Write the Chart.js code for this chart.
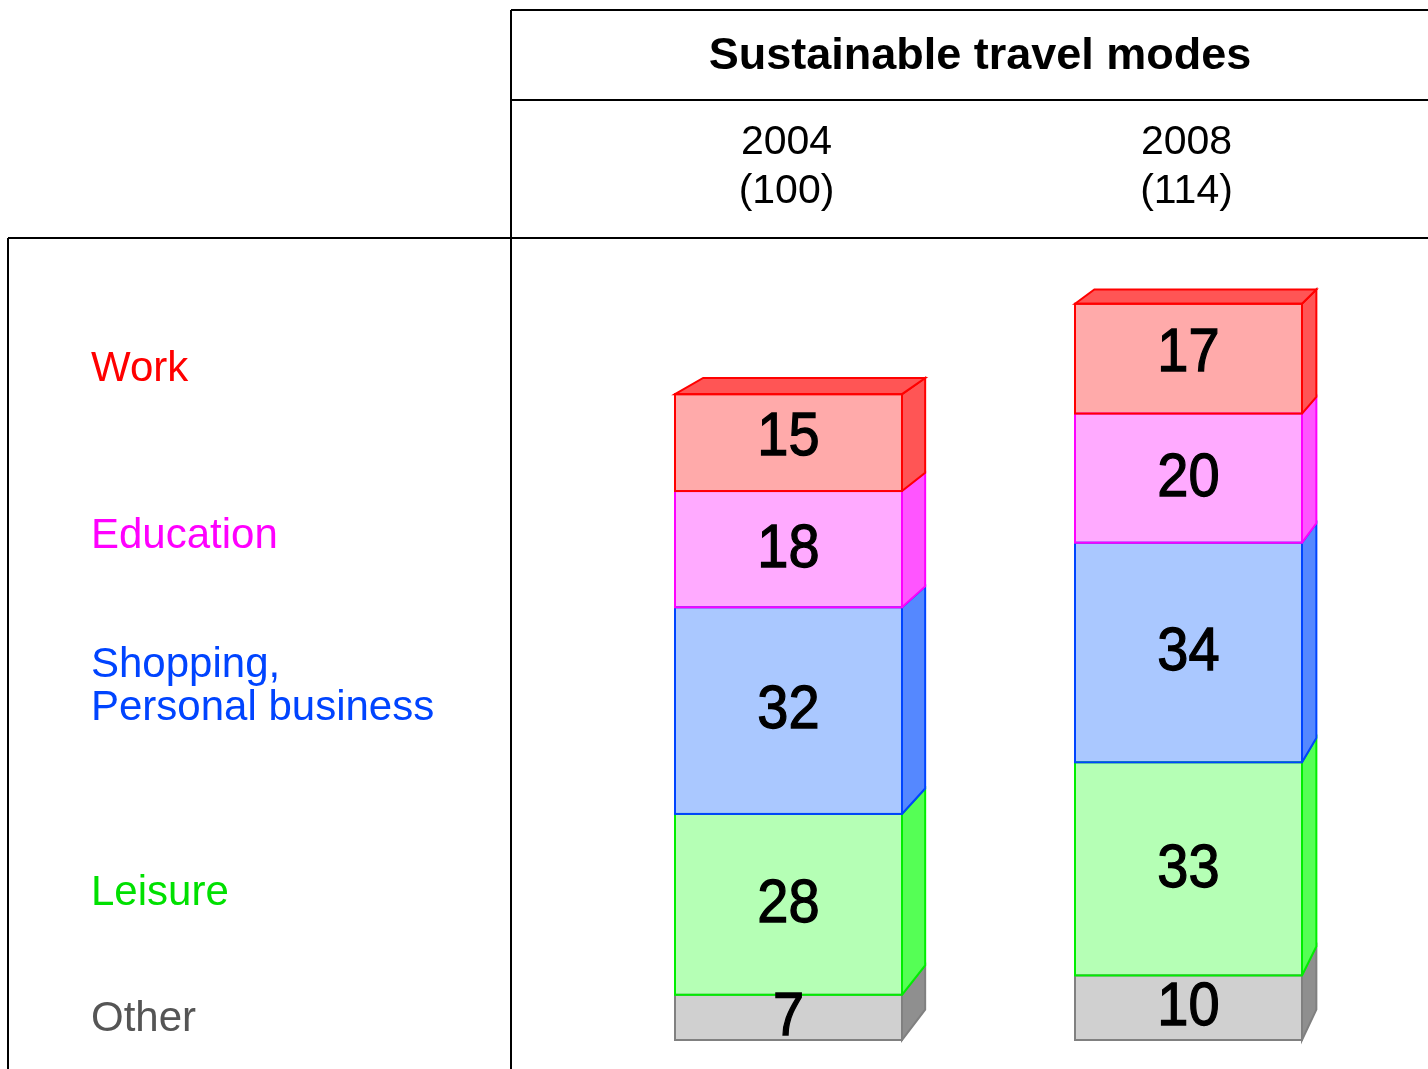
<!DOCTYPE html>
<html>
<head>
<meta charset="utf-8">
<script src="https://cdn.jsdelivr.net/npm/chart.js@4/dist/chart.umd.min.js"></script>
<style>
  body { margin: 0; background: #fff; }
  #wrap { position: absolute; left: 0; top: 0; width: 1428px; height: 1069px; }
</style>
</head>
<body>
<div id="wrap"><canvas id="myChart1" width="1428" height="1069"></canvas></div>
<script>
// data ==========================================================
const years = ["2004", "2008"];
const indexLabels = ["(100)", "(114)"];
const purposes = ["Other", "Leisure", "Shopping, Personal business", "Education", "Work"];
const other = [7, 10];
const leisure = [28, 33];
const shopping = [32, 34];
const education = [18, 20];
const work = [15, 17];

// colours (front, side/top, border, label)
const frontColors = ["#D0D0D0", "#B5FFB5", "#AAC8FF", "#FFAAFF", "#FFAAAA"];
const sideColors = ["#8F8F8F", "#55FF55", "#5588FF", "#FF55FF", "#FF5555"];
const borderColors = ["#808080", "#00EE00", "#0044FF", "#FF00FF", "#FF0000"];
const rowLabelColors = ["#555555", "#00E000", "#0044FF", "#FF00FF", "#FF0000"];

// row labels on the left, bottom to top
const rowLabels = [
  { lines: ["Other"], y: 1019 },
  { lines: ["Leisure"], y: 893 },
  { lines: ["Shopping,"], y: 665 },
  { lines: ["Education"], y: 536 },
  { lines: ["Work"], y: 369 },
];
rowLabels[2].lines.push("Personal business");

const FONT = "'Liberation Sans', Arial, Helvetica, sans-serif";
// perspective for the 3d faces
const VP = { x: 1955, y: -343 };
const K = 0.978;
function back(x, y) {
  return [VP.x + (x - VP.x) * K, VP.y + (y - VP.y) * K];
}

const series = [other, leisure, shopping, education, work];

const data = {
  labels: years,
  datasets: series.map(function (vals, i) {
    return {
      label: purposes[i],
      data: vals,
      backgroundColor: frontColors[i],
      borderWidth: 0,
    };
  }),
};

const tablePlugin = {
  id: "table3d",
  beforeDraw: function (chart) {
    const ctx = chart.ctx;
    ctx.save();
    ctx.fillStyle = "#fff";
    ctx.fillRect(0, 0, chart.width, chart.height);
    // grid lines of the table
    ctx.strokeStyle = "#000";
    ctx.lineWidth = 2;
    ctx.beginPath();
    ctx.moveTo(511, 10); ctx.lineTo(1428, 10);
    ctx.moveTo(511, 10); ctx.lineTo(511, 1069);
    ctx.moveTo(511, 100); ctx.lineTo(1428, 100);
    ctx.moveTo(8, 238); ctx.lineTo(1428, 238);
    ctx.moveTo(8, 238); ctx.lineTo(8, 1069);
    ctx.stroke();

    // title + column headers
    ctx.fillStyle = "#000";
    ctx.textAlign = "center";
    ctx.textBaseline = "middle";
    ctx.font = "bold 45px " + FONT;
    ctx.fillText("Sustainable travel modes", 980, 57);
    ctx.font = "41px " + FONT;
    const xs = chart.scales.x;
    years.forEach(function (y, i) {
      const cx = xs.getPixelForValue(i) - 2;
      ctx.fillText(y, cx, 143);
      ctx.fillText(indexLabels[i], cx, 192);
    });

    // row labels
    ctx.textAlign = "left";
    ctx.font = "42px " + FONT;
    rowLabels.forEach(function (r, i) {
      ctx.fillStyle = rowLabelColors[i];
      r.lines.forEach(function (t, j) {
        ctx.fillText(t, 91, r.y + j * 43);
      });
    });
    ctx.restore();
  },
  afterDatasetsDraw: function (chart) {
    const ctx = chart.ctx;
    const n = chart.data.datasets.length;
    ctx.save();
    ctx.lineWidth = 2;
    ctx.lineJoin = "miter";
    years.forEach(function (yr, col) {
      // side faces
      for (let d = 0; d < n; d++) {
        const el = chart.getDatasetMeta(d).data[col];
        const p = el.getProps(["x", "y", "base", "width"], true);
        const x2 = p.x + p.width / 2;
        const a = back(x2, p.y), b = back(x2, p.base);
        ctx.beginPath();
        ctx.moveTo(x2, p.y);
        ctx.lineTo(a[0], a[1]);
        ctx.lineTo(b[0], b[1]);
        ctx.lineTo(x2, p.base);
        ctx.closePath();
        ctx.fillStyle = sideColors[d];
        ctx.strokeStyle = borderColors[d];
        ctx.fill();
        ctx.stroke();
      }
      // top face
      const topEl = chart.getDatasetMeta(n - 1).data[col];
      const t = topEl.getProps(["x", "y", "base", "width"], true);
      const x1 = t.x - t.width / 2, x2 = t.x + t.width / 2;
      const b1 = back(x1, t.y), b2 = back(x2, t.y);
      ctx.beginPath();
      ctx.moveTo(x1, t.y);
      ctx.lineTo(b1[0], b1[1]);
      ctx.lineTo(b2[0], b2[1]);
      ctx.lineTo(x2, t.y);
      ctx.closePath();
      ctx.fillStyle = sideColors[n - 1];
      ctx.strokeStyle = borderColors[n - 1];
      ctx.fill();
      ctx.stroke();
      // front outlines, bottom to top
      for (let d = 0; d < n; d++) {
        const el = chart.getDatasetMeta(d).data[col];
        const p = el.getProps(["x", "y", "base", "width"], true);
        ctx.strokeStyle = borderColors[d];
        ctx.strokeRect(p.x - p.width / 2, p.y, p.width, p.base - p.y);
      }
    });
    // values
    ctx.fillStyle = "#000";
    ctx.strokeStyle = "#000";
    ctx.lineWidth = 1.2;
    ctx.font = "56px " + FONT;
    ctx.textAlign = "center";
    ctx.textBaseline = "middle";
    for (let d = 0; d < n; d++) {
      chart.getDatasetMeta(d).data.forEach(function (el, col) {
        const p = el.getProps(["x", "y", "base"], true);
        const cy = (p.y + p.base) / 2 + (d === n - 1 ? -4 : 1);
        ctx.save();
        ctx.translate(p.x, cy);
        ctx.scale(1, 1.08);
        ctx.fillText(String(series[d][col]), 0, 0);
        ctx.strokeText(String(series[d][col]), 0, 0);
        ctx.restore();
      });
    }
    ctx.restore();
  },
};

const config = {
  type: "bar",
  data: data,
  options: {
    responsive: false,
    animation: false,
    devicePixelRatio: 1,
    layout: { padding: { top: 265, bottom: 29, left: 588.5, right: 39.5 } },
    datasets: { bar: { categoryPercentage: 1, barPercentage: 0.5675 } },
    scales: {
      x: { stacked: true, display: false },
      y: { stacked: true, display: false, min: 0, max: 120 },
    },
    plugins: {
      legend: { display: false },
      tooltip: { enabled: false },
    },
  },
  plugins: [tablePlugin],
};

const myChart = new Chart(document.getElementById("myChart1"), config);
</script>
</body>
</html>
